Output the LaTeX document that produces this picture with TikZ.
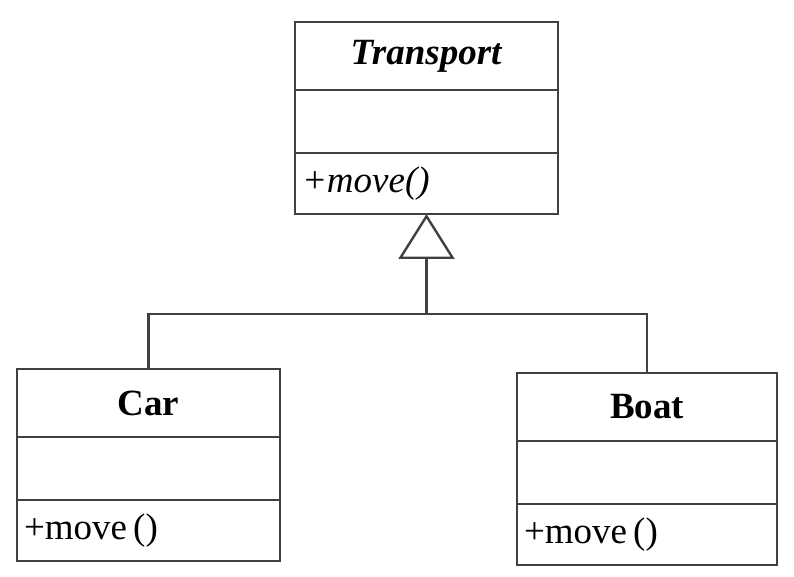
\documentclass[tikz,border=0pt]{standalone}
\usepackage{fontspec}
\setmainfont{Liberation Serif}
\usetikzlibrary{arrows.meta,positioning}
\begin{document}
\begin{tikzpicture}[x=1pt, y=1pt, line width=2.4pt, line join=miter, font=\fontsize{37}{42}\selectfont]
	\tikzset{part/.style={draw=black!75, outer sep=0pt, inner sep=0pt, minimum width=263pt},
		namepart/.style={part, minimum height=68pt},
		attrpart/.style={part, minimum height=63pt},
		opspart/.style={part, minimum height=61pt, text width=249pt, inner xsep=7pt, align=left},
		inherit/.style={draw=black!75, -{Triangle[open, length=45pt, width=56pt]}}}
	\useasboundingbox (0,0) rectangle (794,577);
	% Transport
	\node[namepart, anchor=north] (tname) at (426.5,555) {\textbf{\textit{Transport}}};
	\node[attrpart, below=0pt of tname] (tattr) {};
	\node[opspart, below=0pt of tattr] (tops) {\textit{+move()}};
	% Car
	\node[namepart, anchor=north] (cname) at (148.5,208) {\textbf{Car}};
	\node[attrpart, below=0pt of cname] (cattr) {};
	\node[opspart, below=0pt of cattr] (cops) {+move\,()};
	% Boat
	\node[namepart, anchor=north, minimum width=260pt] (bname) at (647,204) {\textbf{Boat}};
	\node[attrpart, below=0pt of bname, minimum width=260pt] (battr) {};
	\node[opspart, below=0pt of battr, minimum width=260pt, text width=246pt] (bops) {+move\,()};
	\coordinate (bus) at (426.5,263);
	\draw[draw=black!75] (cname.north) |- (bus);
	\draw[draw=black!75] (bname.north) |- (bus);
	\draw[inherit] (bus) -- (tops.south);
\end{tikzpicture}
\end{document}
